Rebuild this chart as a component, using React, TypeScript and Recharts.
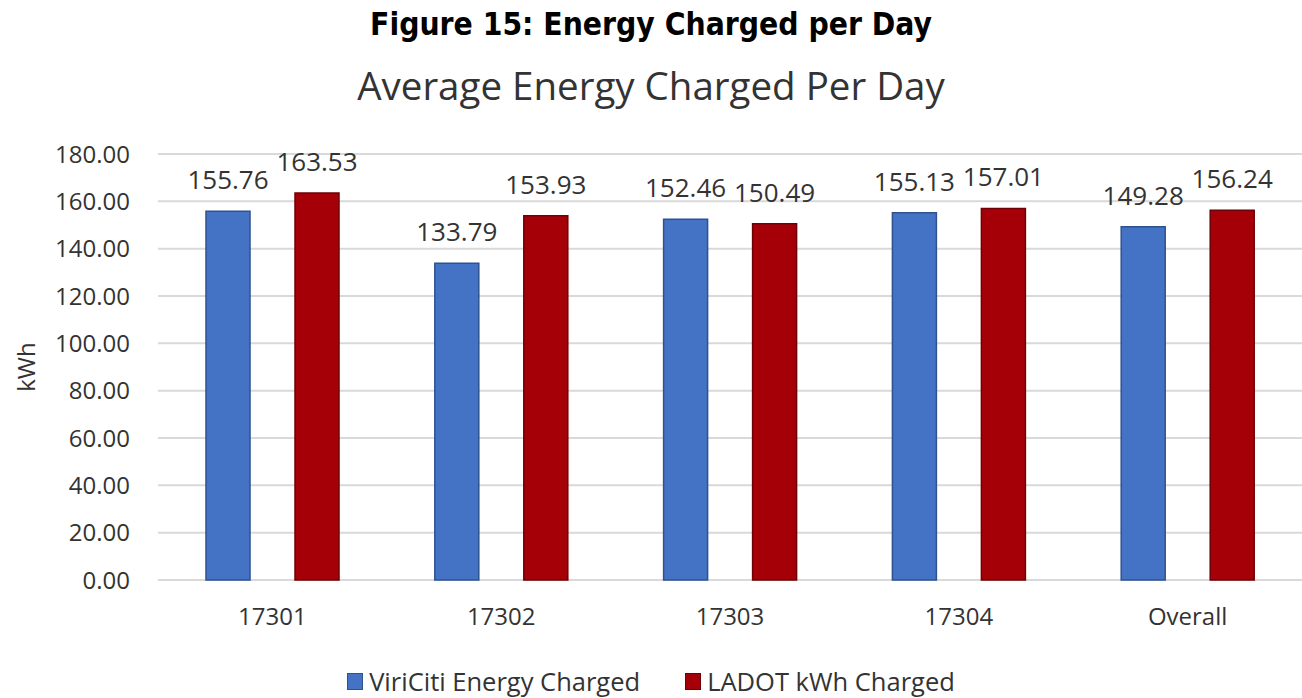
import { BarChart, Bar, XAxis, YAxis, CartesianGrid, Legend, LabelList } from 'recharts';

const categories = ['17301', '17302', '17303', '17304', 'Overall'];
const viriciti = [155.76, 133.79, 152.46, 155.13, 149.28];
const ladot = [163.53, 153.93, 150.49, 157.01, 156.24];
const yTicks = [0, 20, 40, 60, 80, 100, 120, 140, 160, 180];

const SERIES = [
  { key: 'viriciti', name: 'ViriCiti Energy Charged', fill: '#4472C4', stroke: '#2F528F' },
  { key: 'ladot', name: 'LADOT kWh Charged', fill: '#A50008', stroke: '#6E0006' },
];

const chartData = categories.map((c, i) => ({
  name: c,
  viriciti: viriciti[i],
  ladot: ladot[i],
}));

const FONT = '"Open Sans", sans-serif';
const TEXT = '#333333';

function LegendContent() {
  return (
    <div style={{ display: 'flex', justifyContent: 'center', alignItems: 'center', height: 34, fontFamily: FONT, fontSize: 25.5, color: TEXT }}>
      {SERIES.map((s, i) => (
        <div key={s.key} style={{ display: 'flex', alignItems: 'center', marginLeft: i === 0 ? 0 : 45 }}>
          <span style={{ display: 'inline-block', width: 14, height: 15, background: s.fill, border: `1px solid ${s.stroke}`, marginRight: 6 }} />
          <span>{s.name}</span>
        </div>
      ))}
    </div>
  );
}

export default function App() {
  return (
    <div style={{ position: 'absolute', left: 0, top: 0, width: 1302, height: 698, background: '#fff', overflow: 'hidden' }}>
      <div style={{ position: 'absolute', top: 6, width: 1302, textAlign: 'center', fontFamily: '"DejaVu Sans Condensed", "DejaVu Sans", sans-serif', fontWeight: 'bold', fontSize: 31.5, lineHeight: 'normal', color: '#000' }}>
        Figure 15: Energy Charged per Day
      </div>
      <div style={{ position: 'absolute', top: 59, width: 1302, textAlign: 'center', fontFamily: FONT, fontSize: 38.5, lineHeight: 'normal', color: TEXT }}>
        Average Energy Charged Per Day
      </div>
      <div style={{ position: 'absolute', left: 0, top: 0 }}>
        <BarChart width={1302} height={698} data={chartData} margin={{ top: 154, right: 0, left: 0, bottom: 0 }} barGap={45} barSize={44}>
          <CartesianGrid vertical={false} stroke="#D9D9D9" strokeWidth={2} />
          <XAxis
            dataKey="name"
            height={84}
            axisLine={false}
            tickLine={false}
            tickSize={0}
            tickMargin={28}
            tick={{ fontFamily: FONT, fontSize: 24, fill: TEXT }}
          />
          <YAxis
            width={158}
            domain={[0, 180]}
            ticks={yTicks}
            axisLine={false}
            tickLine={false}
            tickSize={0}
            tickMargin={28}
            tickFormatter={(v: number) => v.toFixed(2)}
            tick={{ fontFamily: FONT, fontSize: 24, fill: TEXT }}
            label={({ viewBox }: any) => (
              <text
                x={viewBox.x + 25}
                y={viewBox.y + viewBox.height / 2}
                transform={`rotate(-90, ${viewBox.x + 25}, ${viewBox.y + viewBox.height / 2})`}
                textAnchor="middle"
                dominantBaseline="central"
                fontFamily={FONT}
                fontSize={24}
                fill={TEXT}
              >
                kWh
              </text>
            )}
          />
          <Legend verticalAlign="bottom" content={<LegendContent />} />
          {SERIES.map((s) => (
            <Bar key={s.key} dataKey={s.key} name={s.name} fill={s.fill} stroke={s.stroke} strokeWidth={1.5} isAnimationActive={false}>
              <LabelList
                dataKey={s.key}
                position="top"
                offset={22}
                formatter={(v: any) => Number(v).toFixed(2)}
                style={{ fontFamily: FONT, fontSize: 26, fill: TEXT }}
              />
            </Bar>
          ))}
        </BarChart>
      </div>
    </div>
  );
}
